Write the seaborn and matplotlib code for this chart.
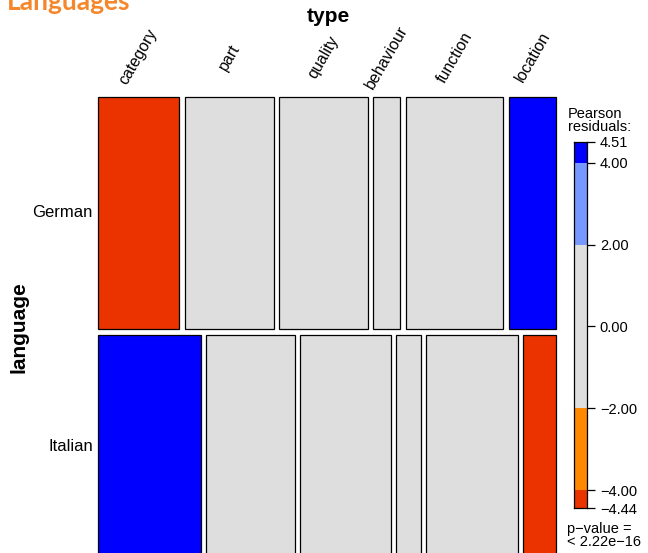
import numpy as np
import pandas as pd
import matplotlib
matplotlib.use("Agg")
import matplotlib.pyplot as plt
import seaborn as sns
from matplotlib.transforms import blended_transform_factory

# counts per cell, estimated from the tile widths / heights
types = ["category", "part", "quality", "behaviour", "function", "location"]
languages = ["German", "Italian"]
german_counts = [1241, 1366, 1353, 413, 1492, 726]
italian_counts = [1514, 1310, 1329, 375, 1348, 488]

# legend range and test result as printed on the chart
resid_max = 4.51
resid_min = -4.44
legend_ticks = [resid_min, -4, -2, 0, 2, 4, resid_max]
p_value_text = "p\u2212value =\n< 2.22e\u221216"

# shading (vcd style)
shade_breaks = [-np.inf, -4, -2, 2, 4, np.inf]
shade_colors = ["#EB3300", "#FF8800", "#DEDEDE", "#7799FF", "#0000FF"]

tab = pd.DataFrame([german_counts, italian_counts], index=languages, columns=types)
n = tab.values.sum()
expected = np.outer(tab.sum(axis=1), tab.sum(axis=0)) / n
resid = (tab.values - expected) / np.sqrt(expected)

def shade(r):
    for k in range(len(shade_colors)):
        if shade_breaks[k] <= r < shade_breaks[k + 1]:
            return shade_colors[k]
    return shade_colors[-1]

sns.set_theme(style="white")
plt.rcParams["font.family"] = ["Liberation Sans", "DejaVu Sans"]
plt.rcParams["text.color"] = "black"
plt.rcParams["ytick.color"] = "black"

W, H = 648, 553
fig = plt.figure(figsize=(W / 100, H / 100), dpi=100)

# mosaic
ax = fig.add_axes([98 / W, 1 - 559 / H, 458.3 / W, 462.3 / H])
gap = 0.012
vgap = 0.0125
row_prop = tab.sum(axis=1) / n
col_centers = {}
y0 = 0
for i, lang in enumerate(languages):
    h = row_prop[lang]
    x0 = 0
    row_total = tab.loc[lang].sum()
    for j, t in enumerate(types):
        w = tab.loc[lang, t] / row_total
        ax.bar(x0, h, width=w, bottom=y0, align="edge", color=shade(resid[i, j]),
               edgecolor="black", linewidth=0.9, clip_on=False)
        if i == 0:
            col_centers[t] = x0 + w / 2
        x0 += w + gap
    ax.text(-0.011, y0 + h / 2, lang, transform=blended_transform_factory(ax.transAxes, ax.transData),
            ha="right", va="center", fontsize=12)
    y0 += h + vgap
ax.set_xlim(0, 1 + gap * (len(types) - 1))
ax.set_ylim(1 + vgap, 0)
ax.axis("off")

trans = blended_transform_factory(ax.transData, fig.transFigure)
for t in types:
    ax.text(col_centers[t], 1 - 57 / H, t, transform=trans, rotation=60,
            ha="center", va="center", fontsize=11.5)

fig.text(328 / W, 1 - 17 / H, "type", ha="center", va="center", fontsize=15, fontweight="bold")
fig.text(19 / W, 1 - 327 / H, "language", ha="center", va="center", rotation=90,
         fontsize=15, fontweight="bold")

# residual legend
cax = fig.add_axes([574.3 / W, 1 - 508.3 / H, 13 / W, 366.6 / H])
for k, c in enumerate(shade_colors):
    lo = max(shade_breaks[k], resid_min)
    hi = min(shade_breaks[k + 1], resid_max)
    cax.bar(0, hi - lo, width=1, bottom=lo, align="edge", color=c, linewidth=0)
cax.set_xlim(0, 1)
cax.set_ylim(resid_min, resid_max)
cax.set_xticks([])
cax.yaxis.tick_right()
cax.set_yticks(legend_ticks)
cax.set_yticklabels([f"{v:.2f}".replace("-", "\u2212") for v in legend_ticks])
cax.tick_params(axis="y", right=True, length=6, width=0.9, color="black",
                labelsize=10.5, pad=3, labelcolor="black")
for s in cax.spines.values():
    s.set_visible(True)
    s.set_color("black")
    s.set_linewidth(0.9)

fig.text(568 / W, 1 - 107 / H, "Pearson\nresiduals:", ha="left", va="top",
         fontsize=10.5, linespacing=0.95)
fig.text(567 / W, 1 - 522 / H, p_value_text, ha="left", va="top",
         fontsize=10.5, linespacing=0.95)

fig.text(7 / W, 1 - 10 / H, "Languages", ha="left", va="baseline", fontsize=19,
         fontweight="bold", color="#F5872A", family=["Lato", "DejaVu Sans"])

fig.savefig("out.png", dpi=100)
